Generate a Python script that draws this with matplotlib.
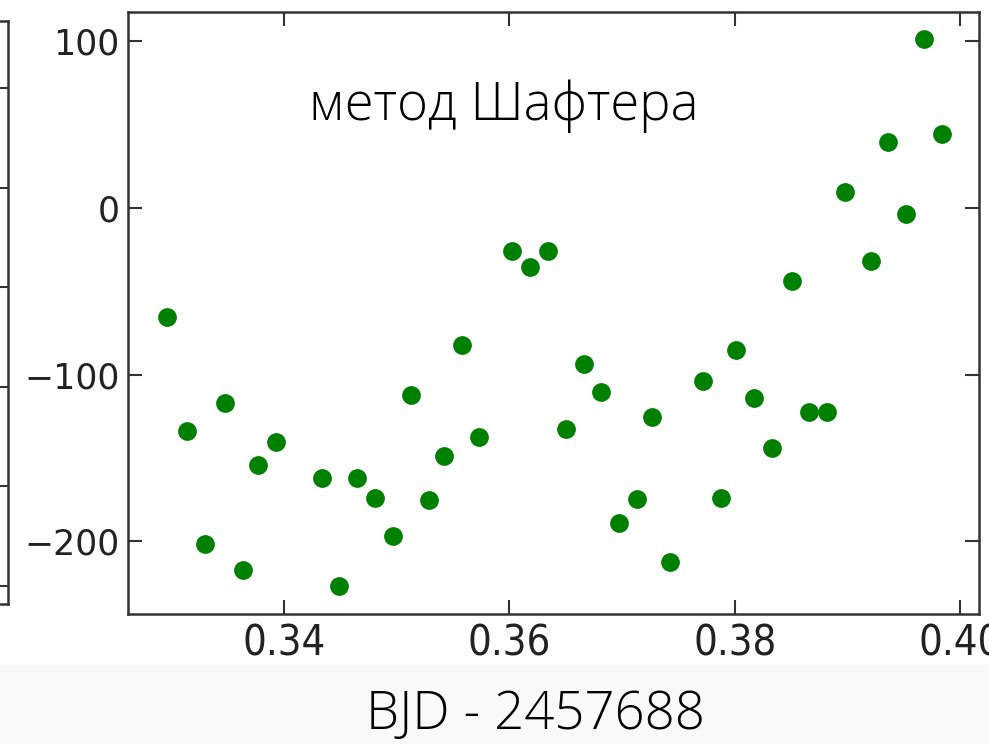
import numpy as np
import matplotlib
matplotlib.use("Agg")
import matplotlib.pyplot as plt

plt.rcParams["font.family"] = "DejaVu Sans"

# BJD - 2457688 и лучевые скорости (метод Шафтера)
bjd = [0.32961, 0.33139, 0.33299, 0.33476, 0.33636, 0.33769, 0.33929,
       0.34337, 0.34488, 0.34648, 0.34808, 0.34968, 0.35127, 0.35287,
       0.35420, 0.35580, 0.35731, 0.36024, 0.36184, 0.36344, 0.36503,
       0.36663, 0.36814, 0.36974, 0.37134, 0.37267, 0.37427, 0.37720,
       0.37879, 0.38012, 0.38172, 0.38332, 0.38510, 0.38660, 0.38820,
       0.38980, 0.39211, 0.39362, 0.39522, 0.39681, 0.39841]
rv = [-65.5, -133.9, -201.8, -117.1, -217.4, -154.4, -140.5,
      -162.2, -227.0, -162.2, -174.2, -197.0, -112.3, -175.4,
      -149.0, -82.3, -137.5, -25.8, -35.4, -25.8, -132.7,
      -93.7, -110.5, -189.2, -174.8, -125.5, -212.6, -103.9,
      -174.2, -85.3, -114.1, -144.1, -43.8, -122.5, -122.5,
      9.6, -31.8, 39.6, -3.6, 101.5, 44.4]

x_ticks = [0.34, 0.36, 0.38, 0.40]
y_ticks = [-200, -100, 0, 100]
title = "метод Шафтера"
xlabel = "BJD - 2457688"

W, H = 989, 744
fig = plt.figure(figsize=(W / 100, H / 100), dpi=100)
fig.patch.set_facecolor("white")

# light band of the slide under the plot
band = plt.Rectangle((0, 0), 1, 1 - 665 / H, transform=fig.transFigure,
                     color="#f9f9f9", zorder=-10)
fig.patches.append(band)

spine_col = "#333333"

# cut-off neighbour plot at the left edge
nb = fig.add_axes([-0.5, 1 - 604 / H, 0.5 + 8 / W, (604 - 21) / H])
nb.set_ylim(0, 583)
nb.set_yticks(np.arange(18, 583, 99.6))
nb.set_xticks([])
nb.tick_params(axis="y", direction="in", left=False, right=True,
               labelleft=False, length=10, width=1.5, color=spine_col)
for s in nb.spines.values():
    s.set_linewidth(1.8)
    s.set_color(spine_col)

ax = fig.add_axes([128 / W, 1 - 614 / H, (979 - 128) / W, (614 - 12) / H])
ax.plot(bjd, rv, "o", color="#008000", markersize=13.5, markeredgewidth=0)

ax.set_xlim(0.32615, 0.40169)
ax.set_ylim(-243.8, 117.7)
ax.set_xticks(x_ticks)
ax.set_yticks(y_ticks)
ax.set_xticklabels([f"{t:.2f}" for t in x_ticks])
ax.tick_params(direction="in", top=True, right=True, length=10, width=1.5,
               color=spine_col, labelcolor="#222222")
ax.tick_params(axis="y", labelsize=25, pad=6)
ax.tick_params(axis="x", labelsize=30, pad=6)
for lab in ax.get_xticklabels():
    lab.set_fontstretch("condensed")
for s in ax.spines.values():
    s.set_linewidth(1.8)
    s.set_color(spine_col)

fig.text(504 / W, 1 - 120 / H, title, ha="center", va="baseline",
         fontsize=38, family=["Open Sans", "Noto Sans", "DejaVu Sans"],
         fontweight="light", color="black")
fig.text(535 / W, 1 - 729 / H, xlabel, ha="center", va="baseline",
         fontsize=38, family=["Open Sans", "Noto Sans", "DejaVu Sans"],
         fontweight="light", color="black")

fig.savefig("out.png", dpi=100)
